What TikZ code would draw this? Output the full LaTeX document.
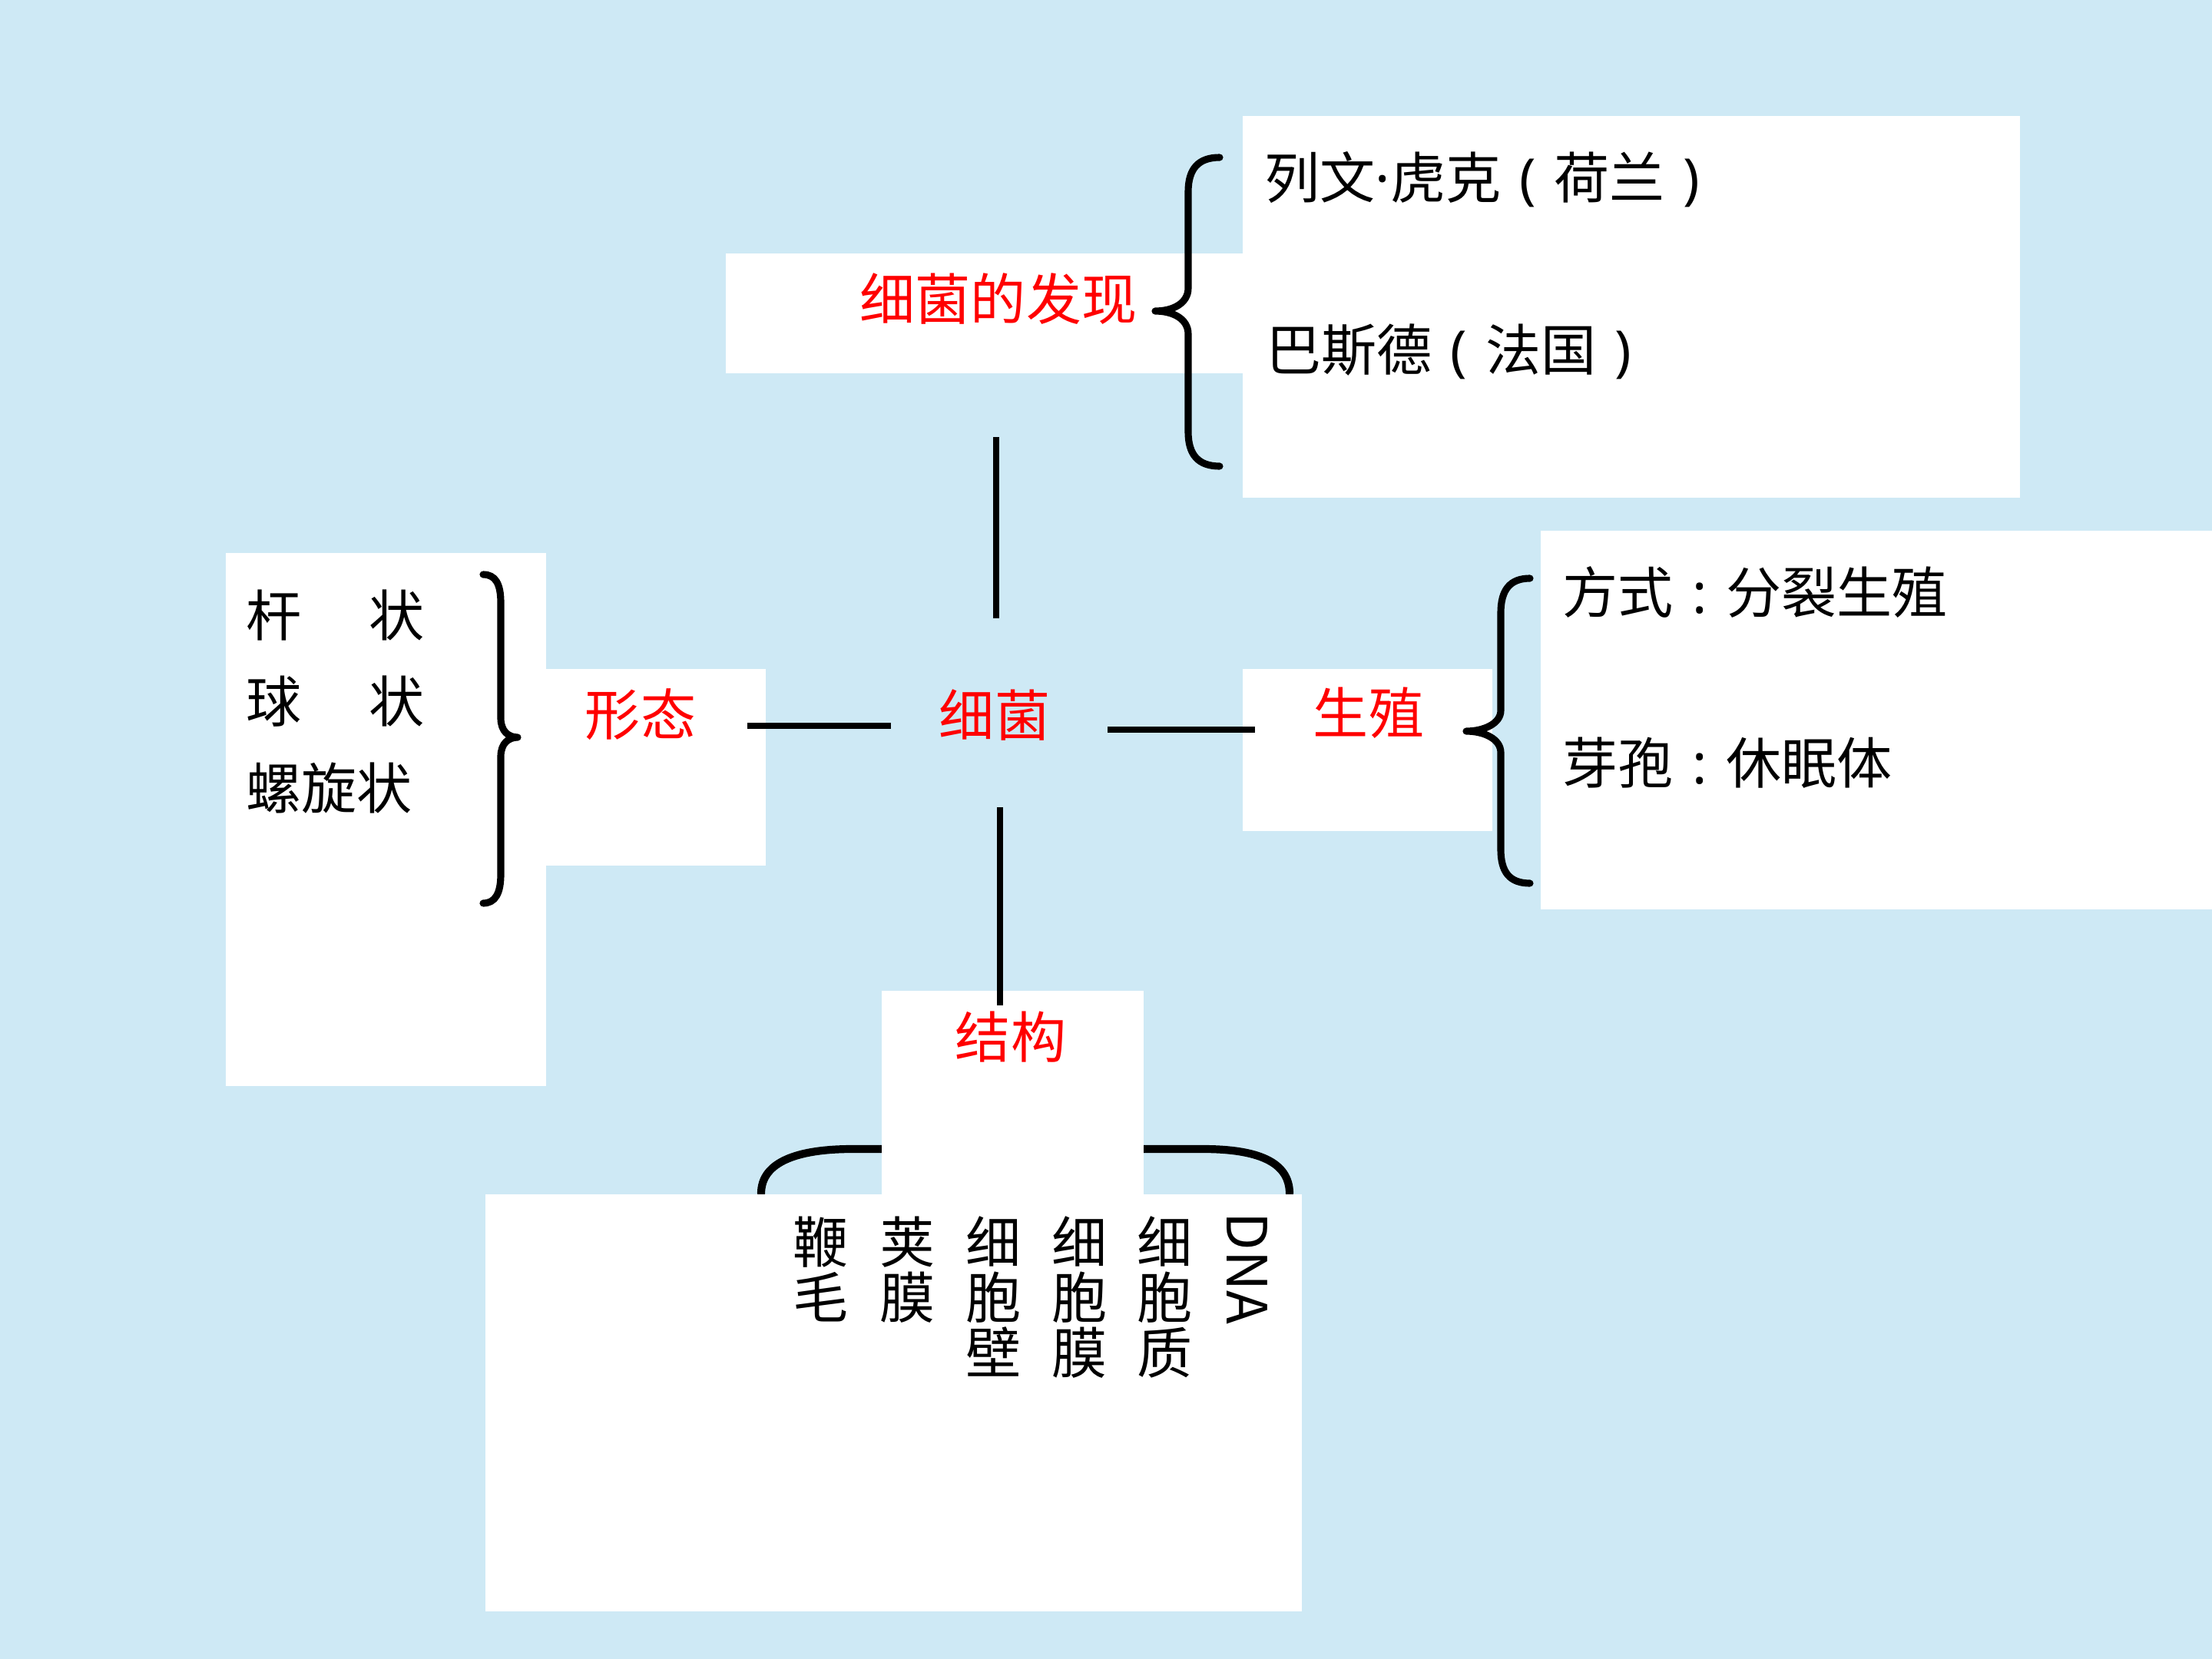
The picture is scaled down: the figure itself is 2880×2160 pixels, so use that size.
\documentclass[tikz,border=0pt]{standalone}
\usepackage{fontspec}
\setmainfont{Noto Sans CJK SC}
\newfontfamily\latinfont{Noto Sans}
\newcommand{\lp}{{\latinfont\hspace{0.33em}(\hspace{0.33em}}}
\newcommand{\rp}{{\latinfont\hspace{0.33em})}}
\newcommand{\cln}{{\latinfont\hspace{0.34em}:\hspace{0.34em}}}
\definecolor{bg}{RGB}{206,233,245}
\definecolor{lblred}{RGB}{255,0,0}
\begin{document}
\begin{tikzpicture}[x=0.01cm,y=-0.01cm,
  box/.style={fill=white,draw=none},
  lbl/.style={text=lblred,inner sep=0pt,font=\fontsize{20.5pt}{24pt}\selectfont},
  itm/.style={text=black,inner sep=0pt,anchor=west,font=\fontsize{20.5pt}{24pt}\selectfont},
  col/.style={text=black,inner sep=0pt,anchor=north,align=center,font=\fontsize{20.5pt}{20.5pt}\selectfont},
  conn/.style={line width=2.4pt},
  brace/.style={line width=2.6pt,line cap=round,line join=round}]
\useasboundingbox (0,0) rectangle (2880,2160);
\fill[bg] (0,0) rectangle (2880,2160);

% bottom brace (its middle is hidden by the structure box)
\draw[brace,line width=2.9pt] (991,1554) .. controls (991,1512) and (1040,1496) .. (1110,1496) -- (1280,1496)
  .. controls (1300,1496) and (1320,1480) .. (1320,1460)
  .. controls (1320,1480) and (1340,1496) .. (1360,1496) -- (1566,1496)
  .. controls (1636,1496) and (1679,1512) .. (1679,1554);

% white boxes
\fill[box] (1618,151) rectangle (2630,648);
\fill[box] (945,330) rectangle (1618,486);
\fill[box] (294,720) rectangle (711,1414);
\fill[box] (711,871) rectangle (997,1127);
\fill[box] (1618,871) rectangle (1943,1082);
\fill[box] (2006,691) rectangle (2880,1184);
\fill[box] (1148,1290) rectangle (1489,1556);
\fill[box] (632,1555) rectangle (1695,2098);

% braces
\draw[brace] (1588,205) .. controls (1560,205) and (1547,220) .. (1547,250) -- (1547,375)
  .. controls (1547,395) and (1527,405) .. (1504,405)
  .. controls (1527,405) and (1547,415) .. (1547,435) -- (1547,562)
  .. controls (1547,592) and (1560,607) .. (1588,607);
\draw[brace] (1992,753) .. controls (1966,753) and (1954,768) .. (1954,798) -- (1954,925)
  .. controls (1954,942) and (1932,952) .. (1909,952)
  .. controls (1932,952) and (1954,962) .. (1954,980) -- (1954,1106)
  .. controls (1954,1136) and (1966,1150) .. (1992,1150);
\draw[brace] (629,748) .. controls (645,748) and (652,760) .. (652,785) -- (652,935)
  .. controls (652,952) and (662,960) .. (674,960)
  .. controls (662,960) and (652,968) .. (652,985) -- (652,1138)
  .. controls (652,1163) and (645,1176) .. (629,1176);

% labels
\node[lbl] (center) at (1295,931) {细菌};
\node[lbl] (disc) at (1300,389) {细菌的发现};
\node[lbl] (form) at (834,930) {形态};
\node[lbl] (repro) at (1782,928) {生殖};
\node[lbl] (struct) at (1316,1350) {结构};

% items
\node[itm] (leeu) at (1646,234) {列文{\latinfont ·}虎克\lp 荷兰\rp};
\node[itm] (past) at (1648,458) {巴斯德\lp 法国\rp};
\node[itm] (rod) at (320,801) {杆\hspace{1.22em}状};
\node[itm] (ball) at (320,913) {球\hspace{1.22em}状};
\node[itm] (spiral) at (320,1026) {螺旋状};
\node[itm] (mode) at (2034,771) {方式\cln 分裂生殖};
\node[itm] (spore) at (2034,993) {芽孢\cln 休眠体};

\node[col] (c1) at (1069,1583) {鞭\\毛};
\node[col] (c2) at (1182,1583) {荚\\膜};
\node[col] (c3) at (1294,1583) {细\\胞\\壁};
\node[col] (c4) at (1406,1583) {细\\胞\\膜};
\node[col] (c5) at (1517,1583) {细\\胞\\质};
\node[text=black,inner sep=0pt,anchor=west,rotate=-90,font=\fontsize{20.5pt}{24pt}\selectfont] (dna) at (1624,1578) {DNA};

% connectors
\coordinate (tA) at (1297,569); \coordinate (tB) at (1297,805);
\coordinate (lA) at (973,945); \coordinate (lB) at (1160,945);
\coordinate (rA) at (1442,950); \coordinate (rB) at (1634,950);
\coordinate (bA) at (1302,1051); \coordinate (bB) at (1302,1309);
\draw[conn] (tA) -- (tB);
\draw[conn] (lA) -- (lB);
\draw[conn] (rA) -- (rB);
\draw[conn] (bA) -- (bB);
\end{tikzpicture}
\end{document}
